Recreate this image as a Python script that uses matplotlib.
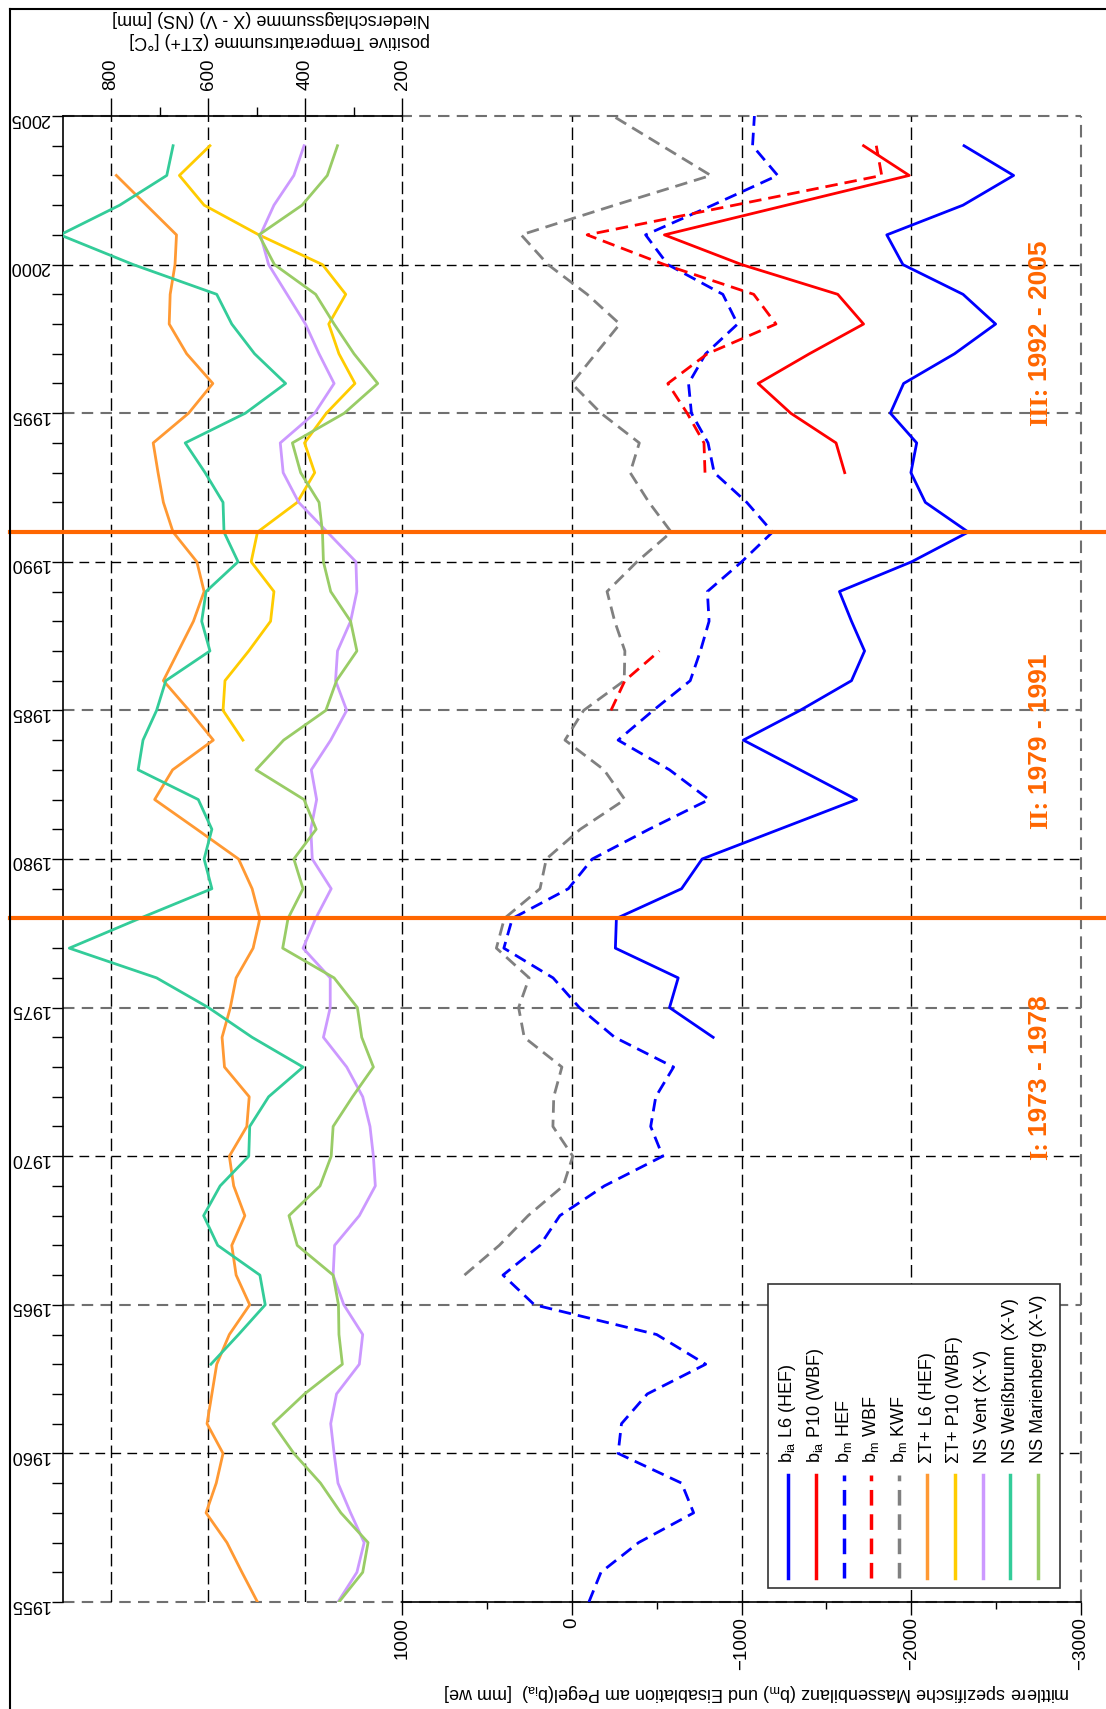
import numpy as np
import matplotlib
matplotlib.use('Agg')
import matplotlib.pyplot as plt
from matplotlib.lines import Line2D
from matplotlib.patches import Rectangle
from matplotlib.transforms import blended_transform_factory
from matplotlib.ticker import MultipleLocator, FixedLocator

plt.rcParams['font.family'] = ['Liberation Sans', 'DejaVu Sans']

nan = np.nan

# --- data (mm we / degC / mm) ---
years_bm_hef = np.arange(1955, 2006)
bm_hef = [-101, -172, -394, -718, -647, -273, -293, -445, -789, -500,
          220, 405, 187, 70, -192, -536, -465, -495, -600, -253,
          -45, 110, 400, 350, 20, -121, -455, -809, -576, -273,
          -480, -698, -758, -809, -799, -1001, -1183, -1031, -839, -803,
          -705, -688, -789, -977, -890, -566, -435, -830, -1213, -1065,
          -1076]

years_bia_l6 = np.arange(1974, 2005)
bia_l6 = [-833, -576, -627, -257, -263, -647, -768, -1223, -1678, -1345,
          -1011, -1345, -1648, -1725, -1648, -1577, -2002, -2336, -2083, -1998,
          -2032, -1877, -1955, -2255, -2497, -2305, -1951, -1856, -2305, -2603,
          -2311]

years_bia_p10 = np.arange(1993, 2005)
bia_p10 = [-1608, -1557, -1290, -1098, -1400, -1719, -1567, -1001, -546, -1266,
           -1988, -1719]

years_bm_wbf = np.arange(1985, 2005)
bm_wbf = [-231, -313, -516, nan, nan, nan, nan, nan, -785, -779,
          -680, -566, -799, -1203, -1072, -546, -91, -958, -1826, -1794]

years_bm_kwf = np.arange(1966, 2006)
bm_kwf = [632, 427, 257, 50, -6, 111, 106, 58, 280, 313,
          251, 444, 397, 187, 150, -50, -313, -190, 40, -70,
          -309, -313, -253, -208, -384, -586, -455, -344, -398, -172,
          0, -141, -283, -91, 140, 298, -253, -819, -531, -243]

years_t_l6 = np.arange(1955, 2004)
t_l6 = [498, 530, 561, 604, 583, 569, 602, 592, 582, 556,
        514, 542, 551, 524, 547, 556, 520, 515, 566, 571,
        554, 542, 507, 493, 509, 537, 623, 710, 673, 589,
        639, 692, 661, 630, 608, 623, 672, 692, 703, 713,
        640, 590, 644, 680, 678, 668, 665, 727, 789]

years_t_p10 = np.arange(1984, 2005)
t_p10 = [528, 569, 565, 516, 471, 464, 511, 498, 416, 380,
         401, 356, 297, 330, 351, 316, 364, 495, 608, 659, 596]

years_ns = np.arange(1955, 2005)
ns_vent = [332, 293, 278, 306, 332, 340, 347, 335, 288, 281,
           320, 342, 339, 288, 255, 259, 266, 281, 314, 362,
           348, 348, 404, 378, 346, 385, 388, 376, 387, 347,
           314, 337, 333, 306, 293, 295, 354, 413, 445, 451,
           380, 340, 371, 399, 437, 475, 492, 464, 423, 402]
ns_marienberg = [330, 281, 270, 326, 368, 423, 466, 401, 323, 330,
                 331, 342, 416, 433, 369, 346, 342, 302, 259, 283,
                 292, 340, 446, 435, 404, 423, 377, 402, 501, 444,
                 357, 335, 293, 306, 347, 362, 364, 371, 409, 426,
                 319, 250, 299, 340, 378, 463, 495, 406, 354, 333]

years_ns_wb = np.arange(1963, 2005)
ns_weissbrunn = [594, 537, 482, 493, 580, 609, 575, 516, 514, 475,
                 404, 509, 599, 706, 886, 741, 592, 608, 592, 620,
                 744, 734, 706, 687, 596, 613, 604, 538, 567, 569,
                 606, 647, 523, 440, 504, 551, 582, 754, 905, 782,
                 685, 672]

period_bounds = [1978, 1991]
period_romans = ['I:', 'II:', 'III:']
period_spans = ['1973 - 1978', '1979 - 1991', '1992 - 2005']

mass_ticks = [1000, 0, -1000, -2000, -3000]
mass_minor = [500, -500, -1500, -2500]
temp_ticks = [200, 400, 600, 800]
temp_minor = [300, 500, 700]

# --- styles ---
BLUE, RED, GRAY = '#0000FF', '#FF0000', '#808080'
ORANGE, GOLD, LILAC, TEAL, GREEN = '#FF9933', '#FFCC00', '#CC99FF', '#33CC99', '#99CC66'
PERIOD = '#FF6600'
DASH = (0, (4.5, 2.5))
LW = 2.0

W, H = 1106, 1709
fig = plt.figure(figsize=(W / 100, H / 100), dpi=100)
L, R, T, B = 62.5, 1081, 116, 1602
ax = fig.add_axes([L / W, 1 - B / H, (R - L) / W, (B - T) / H])
ax.set_xlim(3000, -3000)
ax.set_ylim(1955, 2005)
ax2 = fig.add_axes([L / W, 1 - B / H, (R - L) / 3 / W, (B - T) / H])
ax2.set_xlim(900, 200)
ax2.set_ylim(1955, 2005)
ax2.patch.set_visible(False)

# spines
for s in ['top', 'right']:
    ax.spines[s].set_visible(False)
ax.spines['bottom'].set_bounds(1000, -3000)
ax.spines['left'].set_linewidth(1.2)
ax.spines['bottom'].set_linewidth(1.2)
for s in ['left', 'right', 'bottom']:
    ax2.spines[s].set_visible(False)
ax2.spines['top'].set_linewidth(1.2)

# ticks
ax.xaxis.set_major_locator(FixedLocator(mass_ticks))
ax.xaxis.set_minor_locator(FixedLocator(mass_minor))
ax.tick_params(axis='x', which='major', direction='out', length=9, width=1,
               labelsize=13.5, labelrotation=90, pad=2)
ax.tick_params(axis='x', which='minor', direction='out', length=5, width=1)
ax.yaxis.set_major_locator(MultipleLocator(5))
ax.yaxis.set_minor_locator(MultipleLocator(1))
ax.tick_params(axis='y', which='both', direction='out', length=8, width=1)
ax.tick_params(axis='y', which='major', labelsize=13, labelrotation=180, pad=1)

ax2.xaxis.tick_top()
ax2.xaxis.set_major_locator(FixedLocator(temp_ticks))
ax2.xaxis.set_minor_locator(FixedLocator(temp_minor))
ax2.tick_params(axis='x', which='major', direction='out', length=13, width=1,
                labelsize=13.5, labelrotation=90, pad=6)
ax2.tick_params(axis='x', which='minor', direction='out', length=6.5, width=1)
ax2.tick_params(axis='y', left=False, labelleft=False)

# grid
for y in range(1960, 2001, 10):
    ax.axhline(y, color='k', lw=1, ls=(0, (7, 4.5)), zorder=1)
for y in range(1955, 2006, 10):
    ax.axhline(y, color='#707070', lw=1.5, ls=(0, (5.5, 3.5)), zorder=1, clip_on=False)
for x in [1000, 0, -1000, -2000]:
    ax.axvline(x, color='k', lw=1, ls=(0, (9, 4)), zorder=1)
ax.axvline(-3000, color='#707070', lw=1.5, ls=(0, (6, 3.5)), zorder=1, clip_on=False)
for t in [400, 600, 800]:
    ax2.axvline(t, color='k', lw=1, ls=(0, (9, 4)), zorder=1)

# mass balance series
ax.plot(bm_kwf, years_bm_kwf, color=GRAY, lw=LW, ls=DASH, zorder=3)
ax.plot(bm_hef, years_bm_hef, color=BLUE, lw=LW, ls=DASH, zorder=3)
ax.plot(bm_wbf, years_bm_wbf, color=RED, lw=LW, ls=DASH, zorder=3)
ax.plot(bia_l6, years_bia_l6, color=BLUE, lw=LW, zorder=3)
ax.plot(bia_p10, years_bia_p10, color=RED, lw=LW, zorder=3)

# temperature / precipitation series
ax2.plot(t_l6, years_t_l6, color=ORANGE, lw=LW, zorder=3)
ax2.plot(t_p10, years_t_p10, color=GOLD, lw=LW, zorder=3)
ax2.plot(ns_vent, years_ns, color=LILAC, lw=LW, zorder=3)
ax2.plot(ns_weissbrunn, years_ns_wb, color=TEAL, lw=LW, zorder=3)
ax2.plot(ns_marienberg, years_ns, color=GREEN, lw=LW, zorder=3)

# period separators across the whole sheet
trans = blended_transform_factory(fig.transFigure, ax.transData)
for yb in period_bounds:
    fig.add_artist(Line2D([10 / W, 1], [yb, yb], transform=trans, color=PERIOD, lw=3))

# period labels: roman part in serif below, years in sans above (rotated)
label_x = -2760
label_split = [1970.6, 1982.1, 1996.0]
for rom, span, ys in zip(period_romans, period_spans, label_split):
    ax.annotate(rom, xy=(label_x, ys), xytext=(0, -2), textcoords='offset points',
                rotation=90, ha='center', va='top', color=PERIOD, fontsize=19,
                family='Liberation Serif', weight='bold', zorder=4)
    ax.annotate(span, xy=(label_x, ys), xytext=(0, 2), textcoords='offset points',
                rotation=90, ha='center', va='bottom', color=PERIOD, fontsize=19,
                weight='bold', zorder=4)

# legend (rotated entries)
entries = [('b$\\mathregular{_{ia}}$ L6 (HEF)', BLUE, '-'),
           ('b$\\mathregular{_{ia}}$ P10 (WBF)', RED, '-'),
           ('b$\\mathregular{_m}$ HEF', BLUE, DASH),
           ('b$\\mathregular{_m}$ WBF', RED, DASH),
           ('b$\\mathregular{_m}$ KWF', GRAY, DASH),
           ('\u03a3T+ L6 (HEF)', ORANGE, '-'),
           ('\u03a3T+ P10 (WBF)', GOLD, '-'),
           ('NS Vent (X-V)', LILAC, '-'),
           ('NS Wei\u00dfbrunn (X-V)', TEAL, '-'),
           ('NS Marienberg (X-V)', GREEN, '-')]
ax.add_patch(Rectangle((0.6927, 0.0094), 0.2867, 0.2046, transform=ax.transAxes,
                       facecolor='white', edgecolor='#333333', lw=1.2, zorder=5))
for i, (lab, col, ls) in enumerate(entries):
    lx = 0.7123 + i * 0.0273
    ax.add_line(Line2D([lx, lx], [0.0162, 0.0855], transform=ax.transAxes,
                       color=col, lw=2.5, ls=ls, zorder=6))
    ax.text(lx, 0.0935, lab, transform=ax.transAxes, rotation=90, ha='center',
            va='bottom', fontsize=13, zorder=6)

# axis titles (upside down as in the source sheet)
fig.text(757 / W, 1 - 1692 / H,
         'mittlere spezifische Massenbilanz (b$\\mathregular{_m}$) und Eisablation am '
         'Pegel(b$\\mathregular{_{ia}}$)  [mm we]',
         rotation=180, ha='center', va='center', fontsize=13)
fig.text(430 / W, 1 - 18 / H, 'Niederschlagssumme (X - V) (NS) [mm]',
         rotation=180, ha='right', va='center', fontsize=13)
fig.text(430 / W, 1 - 40 / H, 'positive Temperatursumme (\u03a3T+) [\u00b0C]',
         rotation=180, ha='right', va='center', fontsize=13)

# outer frame
fig.add_artist(Line2D([10 / W, 1], [1 - 9 / H, 1 - 9 / H], color='k', lw=1.5))
fig.add_artist(Line2D([10 / W, 10 / W], [0, 1 - 9 / H], color='k', lw=1.5))

fig.savefig('out.png', dpi=100)
